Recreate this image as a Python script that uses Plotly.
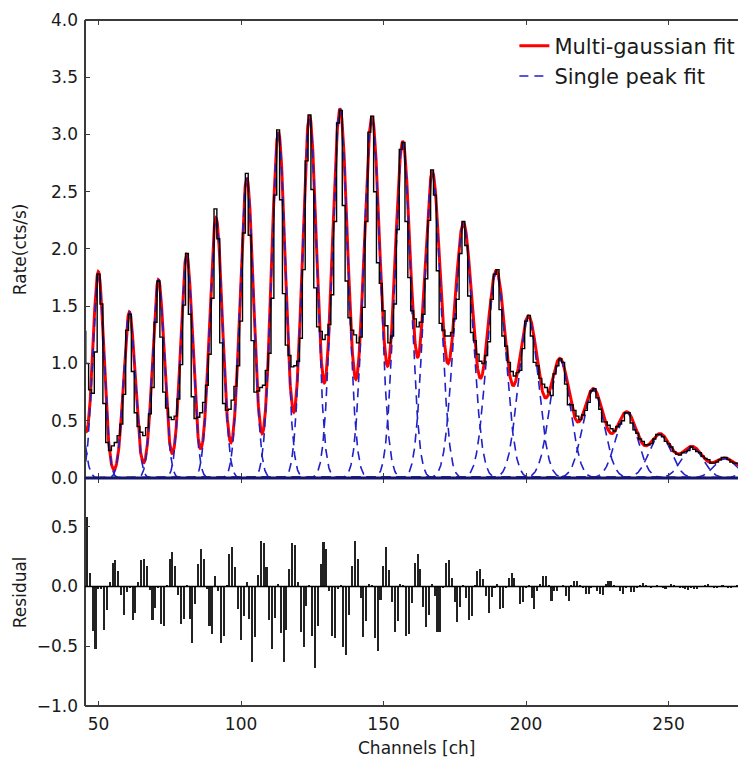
import numpy as np
import plotly.graph_objects as go

# ---------------- data ----------------
channels = list(range(45, 278))
counts = [
    1.28, 1.00, 0.77, 0.74, 1.10, 1.78, 1.52, 0.65, 0.31, 0.24,
    0.28, 0.31, 0.37, 0.47, 0.73, 1.29, 1.43, 0.93, 0.57, 0.45,
    0.40, 0.37, 0.44, 0.56, 0.79, 1.36, 1.72, 1.23, 0.75, 0.61,
    0.53, 0.51, 0.54, 0.69, 0.99, 1.51, 1.96, 1.43, 0.71, 0.52,
    0.53, 0.57, 0.66, 0.81, 1.08, 1.57, 2.35, 2.09, 1.18, 0.65,
    0.59, 0.60, 0.68, 0.80, 0.98, 1.37, 2.14, 2.66, 2.12, 1.20,
    0.75, 0.76, 0.79, 0.81, 0.94, 1.09, 1.57, 2.47, 3.04, 2.43,
    1.61, 1.16, 1.07, 0.97, 0.98, 1.02, 1.22, 1.82, 2.77, 3.17,
    2.52, 1.66, 1.32, 1.28, 1.21, 1.25, 1.34, 1.60, 2.24, 3.10,
    3.21, 2.38, 1.72, 1.40, 1.29, 1.25, 1.18, 1.23, 1.49, 2.24,
    3.02, 3.16, 2.50, 1.88, 1.70, 1.46, 1.33, 1.18, 1.24, 1.52,
    2.17, 2.87, 2.93, 2.24, 1.75, 1.46, 1.39, 1.32, 1.36, 1.43,
    1.74, 2.25, 2.69, 2.47, 1.81, 1.35, 1.29, 1.24, 1.24, 1.27,
    1.39, 1.56, 1.96, 2.24, 2.03, 1.59, 1.27, 1.20, 1.08, 1.02,
    1.00, 1.07, 1.19, 1.56, 1.78, 1.82, 1.47, 1.24, 1.15, 1.01,
    0.93, 0.89, 0.92, 0.94, 1.13, 1.37, 1.42, 1.24, 1.01, 0.98,
    0.87, 0.82, 0.79, 0.75, 0.72, 0.91, 0.98, 1.04, 1.01, 0.82,
    0.64, 0.64, 0.59, 0.54, 0.51, 0.55, 0.59, 0.66, 0.76, 0.78,
    0.70, 0.60, 0.49, 0.49, 0.46, 0.43, 0.41, 0.45, 0.47, 0.50,
    0.57, 0.57, 0.48, 0.42, 0.39, 0.34, 0.32, 0.29, 0.29, 0.30,
    0.34, 0.38, 0.38, 0.36, 0.32, 0.30, 0.27, 0.23, 0.21, 0.20,
    0.22, 0.23, 0.24, 0.27, 0.25, 0.23, 0.22, 0.19, 0.17, 0.16,
    0.13, 0.13, 0.14, 0.16, 0.18, 0.18, 0.16, 0.14, 0.13, 0.13,
    0.12, 0.11, 0.11,
]

res_channels = list(range(46, 278))
residuals = [
    0.58, 0.11, -0.37, -0.52, -0.02, -0.02, -0.36, -0.20, 0.04, 0.20,
    0.22, 0.13, -0.07, -0.24, -0.05, -0.01, -0.28, -0.22, 0.04, 0.22,
    0.23, 0.17, -0.03, -0.28, -0.18, -0.01, -0.31, -0.33, 0.01, 0.23,
    0.29, 0.17, -0.07, -0.31, -0.27, 0.01, -0.27, -0.47, -0.15, 0.19,
    0.31, 0.23, -0.02, -0.33, -0.40, 0.09, -0.04, -0.47, -0.41, 0.01,
    0.27, 0.33, 0.16, -0.19, -0.45, -0.25, 0.04, -0.27, -0.63, -0.42,
    0.10, 0.38, 0.36, 0.16, -0.28, -0.52, -0.26, 0.02, -0.39, -0.63,
    -0.36, 0.15, 0.36, 0.35, 0.04, -0.38, -0.51, -0.16, 0.01, -0.41,
    -0.68, -0.33, 0.19, 0.37, 0.31, -0.04, -0.41, -0.43, -0.02, 0.01,
    -0.51, -0.57, -0.24, 0.17, 0.38, 0.23, -0.10, -0.42, -0.29, 0.02,
    0.01, -0.43, -0.54, -0.11, 0.17, 0.33, 0.14, -0.13, -0.38, -0.29,
    0.02, 0.01, -0.41, -0.40, -0.14, 0.20, 0.27, 0.15, -0.17, -0.34,
    -0.24, 0.02, -0.08, -0.38, -0.38, -0.01, 0.20, 0.22, 0.07, -0.13,
    -0.30, -0.17, 0.01, -0.10, -0.28, -0.25, 0.01, 0.13, 0.15, 0.06,
    -0.08, -0.22, -0.09, -0.01, 0.02, -0.19, -0.18, -0.01, 0.07, 0.11,
    0.07, 0.00, -0.15, -0.13, -0.01, 0.01, -0.10, -0.19, -0.04, 0.02,
    0.09, 0.09, 0.01, -0.12, -0.04, -0.04, 0.00, 0.01, -0.08, -0.12,
    0.01, 0.05, 0.05, 0.01, -0.01, -0.06, -0.06, -0.01, 0.00, -0.04,
    -0.06, -0.07, 0.02, 0.05, 0.05, 0.01, 0.00, -0.04, -0.06, -0.01,
    0.00, -0.05, -0.05, -0.01, 0.01, 0.03, 0.01, 0.00, -0.01, 0.00,
    0.01, 0.00, -0.01, -0.02, 0.00, 0.02, 0.01, 0.00, -0.01, -0.01,
    -0.02, -0.03, -0.01, -0.02, -0.02, 0.00, 0.00, 0.01, 0.02, 0.00,
    -0.01, -0.01, 0.00, 0.01, 0.00, -0.01, -0.01, 0.00, 0.01, 0.01,
    0.00, 0.00,
]

# fitted gaussian peaks (center, amplitude, width)
peak_centers = [43.0, 49.9, 60.8, 71.0, 80.9, 91.2, 102.0, 113.1, 124.0, 134.7,
                145.9, 156.7, 167.1, 178.0, 189.5, 200.8, 211.9, 223.6, 235.3,
                247.0, 258.3, 269.8, 281.3]
peak_amplitudes = [0.62, 1.80, 1.45, 1.73, 1.95, 2.27, 2.62, 3.02, 3.16, 3.22,
                   3.15, 2.93, 2.66, 2.22, 1.80, 1.40, 1.03, 0.77, 0.57,
                   0.38, 0.27, 0.17, 0.16]
peak_sigmas = [1.9, 1.95, 2.0, 2.05, 2.1, 2.25, 2.35, 2.45, 2.55, 2.75,
               2.85, 2.8, 2.9, 3.25, 3.35, 3.5, 3.6, 3.7, 3.8,
               3.8, 3.8, 3.8, 3.8]

x_ticks = [50, 100, 150, 200, 250]
rate_ticks = [0.0, 0.5, 1.0, 1.5, 2.0, 2.5, 3.0, 3.5, 4.0]
res_ticks = [-1.0, -0.5, 0.0, 0.5]

# ---------------- figure ----------------
X_RANGE = [45.23, 277.16]
FONT = "DejaVu Sans"
TXT = "#1a1a1a"
SPINE = "#3a3a3a"
SPLIT = 0.3324

xs = np.linspace(44.0, 280.0, 2361)
singles = [a * np.exp(-(xs - m) ** 2 / (2 * s ** 2))
           for m, a, s in zip(peak_centers, peak_amplitudes, peak_sigmas)]
multi = np.sum(singles, axis=0)

fig = go.Figure()

fig.add_trace(go.Scatter(x=xs, y=multi, mode="lines",
                         line=dict(color="#ff0000", width=3),
                         name="Multi-gaussian fit", legendgroup="a",
                         xaxis="x", yaxis="y"))
for i, g in enumerate(singles):
    fig.add_trace(go.Scatter(x=xs, y=g, mode="lines",
                             line=dict(color="#2020c8", width=1.6, dash="9px,6px"),
                             name="Single peak fit", legendgroup="b",
                             showlegend=(i == 0), xaxis="x", yaxis="y"))
fig.add_trace(go.Scatter(x=channels, y=counts, mode="lines",
                         line=dict(color="black", width=1.4, shape="hvh"),
                         showlegend=False, xaxis="x", yaxis="y"))

fig.add_trace(go.Bar(x=res_channels, y=residuals, width=0.55,
                     marker=dict(color="#222222", line=dict(width=0)),
                     showlegend=False, xaxis="x2", yaxis="y2"))

axis_common = dict(ticks="inside", ticklen=5, tickwidth=1, tickcolor=SPINE,
                   mirror="ticks", showline=False, showgrid=False, zeroline=False,
                   automargin=False,
                   tickfont=dict(family=FONT, size=17, color=TXT))

# the page body keeps an 8 px margin, so the figure is sized to the visible area
fig.update_layout(
    width=738, height=751,
    margin=dict(l=77, r=0, t=12, b=53),
    paper_bgcolor="white", plot_bgcolor="white",
    bargap=0,
    xaxis=dict(domain=[0, 1], anchor="y", range=X_RANGE, tickvals=x_ticks,
               showticklabels=False, **axis_common),
    yaxis=dict(domain=[SPLIT, 1], anchor="x", range=[0, 4], tickvals=rate_ticks,
               tickformat=".1f", ticklabelstandoff=6, **axis_common),
    xaxis2=dict(domain=[0, 1], anchor="y2", range=X_RANGE, tickvals=x_ticks,
                ticklabelstandoff=6, **axis_common),
    yaxis2=dict(domain=[0, SPLIT], anchor="x2", range=[-1, 0.908], tickvals=res_ticks,
                tickformat=".1f", ticklabelstandoff=6, **axis_common),
    legend=dict(x=0.6496, y=0.992, xanchor="left", yanchor="top",
                bgcolor="rgba(0,0,0,0)", font=dict(family=FONT, size=21, color=TXT),
                traceorder="grouped", tracegroupgap=0),
    shapes=[
        dict(type="line", xref="paper", yref="paper", x0=0, x1=1, y0=1, y1=1,
             line=dict(color=SPINE, width=2)),
        dict(type="line", xref="paper", yref="paper", x0=0, x1=0, y0=0, y1=1,
             line=dict(color=SPINE, width=2)),
        dict(type="line", xref="paper", yref="paper", x0=0, x1=1, y0=0, y1=0,
             line=dict(color=SPINE, width=2)),
        dict(type="line", xref="paper", yref="y2", x0=0, x1=1, y0=0, y1=0,
             line=dict(color="black", width=1.4)),
        dict(type="line", xref="paper", yref="paper", x0=0, x1=1, y0=SPLIT, y1=SPLIT,
             line=dict(color="#16166a", width=3)),
    ],
    annotations=[
        dict(text="Rate(cts/s)", xref="paper", yref="paper", x=-0.098,
             y=(1 + SPLIT) / 2, textangle=-90, showarrow=False,
             xanchor="center", yanchor="middle",
             font=dict(family=FONT, size=17, color=TXT)),
        dict(text="Residual", xref="paper", yref="paper", x=-0.098,
             y=SPLIT / 2, textangle=-90, showarrow=False,
             xanchor="center", yanchor="middle",
             font=dict(family=FONT, size=17, color=TXT)),
        dict(text="Channels [ch]", xref="paper", yref="paper", x=0.5008,
             y=-0.0612, showarrow=False, xanchor="center", yanchor="middle",
             font=dict(family=FONT, size=17, color=TXT)),
    ],
)

fig.write_html("out.html")
